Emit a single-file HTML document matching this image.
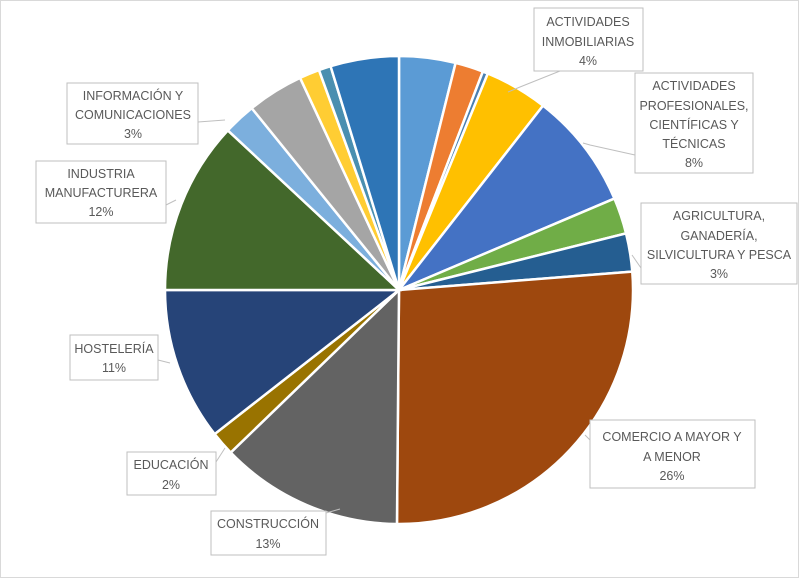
<!DOCTYPE html>
<html><head><meta charset="utf-8"><style>
html,body{margin:0;padding:0;background:#fff}
svg text{font-family:"Liberation Sans",sans-serif;font-size:12.5px;fill:#595959;text-anchor:middle}
</style></head><body>
<svg id="s" width="800" height="579" xmlns="http://www.w3.org/2000/svg">
<rect x="0.5" y="0.5" width="798" height="577" fill="#fff" stroke="#d9d9d9"/>
<g id="pie"></g>
<g fill="#fff" stroke="#bfbfbf" stroke-width="1">
<rect x="534" y="8" width="109" height="63"/>
<rect x="635" y="73" width="118" height="100"/>
<rect x="641" y="203" width="156" height="81"/>
<rect x="590" y="420" width="165" height="68"/>
<rect x="211" y="511" width="115" height="44"/>
<rect x="127" y="452" width="89" height="43"/>
<rect x="70" y="335" width="88" height="45"/>
<rect x="36" y="161" width="130" height="62"/>
<rect x="67" y="83" width="131" height="61"/>
</g>
<g stroke="#bfbfbf" fill="none">
<polyline points="560,71 520,87 508,92"/>
<polyline points="635,155 590,145 583,143"/>
<polyline points="641,268 632,255"/>
<polyline points="590,440 585,435"/>
<polyline points="326,513 340,509"/>
<polyline points="216,462 225,448"/>
<polyline points="158,360 170,363"/>
<polyline points="166,205 176,200"/>
<polyline points="198,122 225,120"/>
</g>
<text x="588" y="26">ACTIVIDADES</text><text x="588" y="46">INMOBILIARIAS</text><text x="588" y="65">4%</text>
<text x="694" y="90">ACTIVIDADES</text><text x="694" y="110">PROFESIONALES,</text><text x="694" y="129">CIENTÍFICAS Y</text><text x="694" y="148">TÉCNICAS</text><text x="694" y="167">8%</text>
<text x="719" y="220">AGRICULTURA,</text><text x="719" y="240">GANADERÍA,</text><text x="719" y="259">SILVICULTURA Y PESCA</text><text x="719" y="278">3%</text>
<text x="672" y="441">COMERCIO A MAYOR Y</text><text x="672" y="461">A MENOR</text><text x="672" y="480">26%</text>
<text x="268" y="528">CONSTRUCCIÓN</text><text x="268" y="548">13%</text>
<text x="171" y="469">EDUCACIÓN</text><text x="171" y="489">2%</text>
<text x="114" y="353">HOSTELERÍA</text><text x="114" y="372">11%</text>
<text x="101" y="178">INDUSTRIA</text><text x="101" y="197">MANUFACTURERA</text><text x="101" y="216">12%</text>
<text x="133" y="100">INFORMACIÓN Y</text><text x="133" y="119">COMUNICACIONES</text><text x="133" y="138">3%</text>
</svg>
<script>
var cx=399,cy=290,r=234;
var sl=[[0,14,"#5b9bd5"],[14,21,"#ed7d31"],[21,22.3,"#4a7fb0"],[22.3,38,"#ffc000"],[38,67,"#4472c4"],[67,76,"#70ad47"],[76,85.5,"#255e91"],[85.5,180.5,"#9e480e"],[180.5,226,"#636363"],[226,232,"#997300"],[232,270,"#264478"],[270,313,"#43682b"],[313,321,"#7cafdd"],[321,335,"#a5a5a5"],[335,340,"#ffcd33"],[340,343,"#4a8fb0"],[343,360,"#2e75b6"]];
function p(a){a=(a-90)*Math.PI/180;return (cx+r*Math.cos(a)).toFixed(2)+","+(cy+r*Math.sin(a)).toFixed(2);}
var h="";
sl.forEach(function(s){var lg=(s[1]-s[0])>180?1:0;
h+='<path d="M'+cx+','+cy+' L'+p(s[0])+' A'+r+','+r+' 0 '+lg+' 1 '+p(s[1])+' Z" fill="'+s[2]+'" stroke="#fff" stroke-width="2.5"/>';});
document.getElementById("pie").innerHTML=h;
</script>
</body></html>
